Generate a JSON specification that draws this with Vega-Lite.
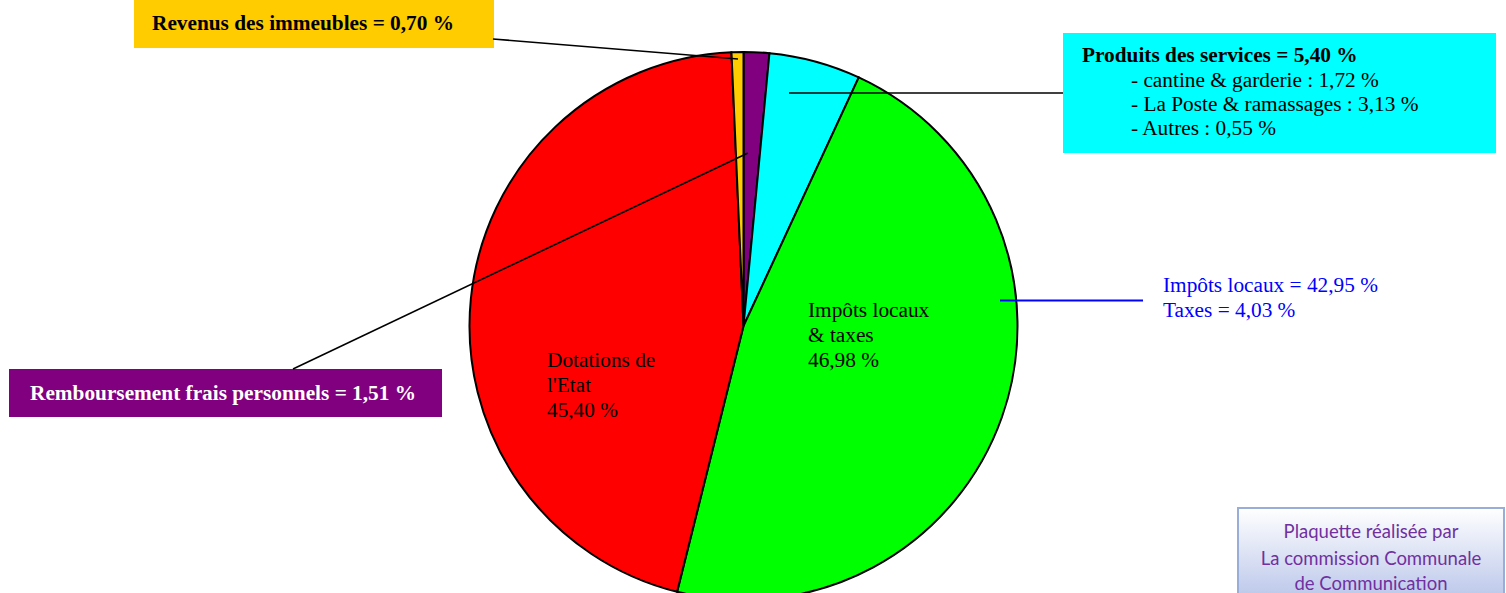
{
  "$schema": "https://vega.github.io/schema/vega-lite/v6.json",
  "width": 1506,
  "height": 593,
  "autosize": "none",
  "padding": 0,
  "background": "white",
  "config": {"view": {"stroke": null}},
  "datasets": {
    "pie": [
      {"poste": "Remboursement frais personnels", "pct": 1.51, "ordre": 1},
      {"poste": "Produits des services", "pct": 5.40, "ordre": 2},
      {"poste": "Impôts locaux & taxes", "pct": 46.98, "ordre": 3},
      {"poste": "Dotations de l'Etat", "pct": 45.40, "ordre": 4},
      {"poste": "Revenus des immeubles", "pct": 0.70, "ordre": 5}
    ],
    "boxes": [
      {"poste": "Revenus des immeubles", "x": 134, "x2": 494, "y": -2, "y2": 48},
      {"poste": "Produits des services", "x": 1063, "x2": 1496, "y": 33, "y2": 153},
      {"poste": "Remboursement frais personnels", "x": 9, "x2": 442, "y": 369, "y2": 417}
    ],
    "leaders": [
      {"x": 493, "y": 39, "x2": 738, "y2": 59},
      {"x": 789, "y": 93, "x2": 1063, "y2": 93},
      {"x": 293, "y": 369, "x2": 748, "y2": 153}
    ],
    "blueLeader": [
      {"x": 1000, "y": 300.5, "x2": 1143, "y2": 300.5}
    ],
    "boldText": [
      {"texte": "Revenus des immeubles = 0,70 %", "x": 152, "y": 30},
      {"texte": "Produits des services = 5,40 %", "x": 1082, "y": 62}
    ],
    "plainText": [
      {"texte": "- cantine & garderie : 1,72 %", "x": 1131, "y": 87},
      {"texte": "- La Poste & ramassages : 3,13 %", "x": 1131, "y": 111},
      {"texte": "- Autres : 0,55 %", "x": 1131, "y": 135},
      {"texte": "Impôts locaux", "x": 808, "y": 317},
      {"texte": "& taxes", "x": 808, "y": 342},
      {"texte": "46,98 %", "x": 808, "y": 367},
      {"texte": "Dotations de", "x": 547, "y": 367},
      {"texte": "l'Etat", "x": 547, "y": 392},
      {"texte": "45,40 %", "x": 547, "y": 417}
    ],
    "blueText": [
      {"texte": "Impôts locaux = 42,95 %", "x": 1163, "y": 292},
      {"texte": "Taxes = 4,03 %", "x": 1163, "y": 317}
    ],
    "whiteText": [
      {"texte": "Remboursement frais personnels = 1,51 %", "x": 30, "y": 400}
    ],
    "credit": [
      {"x": 1238, "x2": 1504, "y": 508, "y2": 600}
    ],
    "creditText": [
      {"texte": "Plaquette réalisée par", "x": 1371, "y": 538},
      {"texte": "La commission Communale", "x": 1371, "y": 565},
      {"texte": "de Communication", "x": 1371, "y": 590}
    ]
  },
  "layer": [
    {
      "data": {"name": "pie"},
      "mark": {"type": "arc", "radius": 274, "stroke": "#000000", "strokeWidth": 2},
      "encoding": {
        "theta": {"field": "pct", "type": "quantitative", "stack": true},
        "order": {"field": "ordre", "type": "quantitative"},
        "color": {
          "field": "poste", "type": "nominal", "legend": null,
          "scale": {
            "domain": ["Remboursement frais personnels", "Produits des services", "Impôts locaux & taxes", "Dotations de l'Etat", "Revenus des immeubles"],
            "range": ["#800080", "#00FFFF", "#00FF00", "#FF0000", "#FFCC00"]
          }
        },
        "x": {"datum": 743.5, "type": "quantitative", "scale": {"domain": [0, 1506], "nice": false, "zero": false}, "axis": null},
        "y": {"datum": 326, "type": "quantitative", "scale": {"domain": [0, 593], "nice": false, "zero": false, "reverse": true}, "axis": null}
      }
    },
    {
      "data": {"name": "boxes"},
      "mark": {"type": "rect", "strokeWidth": 0},
      "encoding": {
        "x": {"field": "x", "type": "quantitative", "axis": null},
        "x2": {"field": "x2"},
        "y": {"field": "y", "type": "quantitative", "axis": null},
        "y2": {"field": "y2"},
        "color": {"field": "poste", "type": "nominal", "legend": null}
      }
    },
    {
      "data": {"name": "credit"},
      "mark": {
        "type": "rect", "stroke": "#98AED8", "strokeWidth": 2,
        "fill": {"gradient": "linear", "x1": 0, "y1": 0, "x2": 0, "y2": 1,
                 "stops": [{"offset": 0, "color": "#FFFFFF"}, {"offset": 1, "color": "#BAC6EA"}]}
      },
      "encoding": {
        "x": {"field": "x", "type": "quantitative", "axis": null},
        "x2": {"field": "x2"},
        "y": {"field": "y", "type": "quantitative", "axis": null},
        "y2": {"field": "y2"}
      }
    },
    {
      "data": {"name": "leaders"},
      "mark": {"type": "rule", "color": "#000000", "strokeWidth": 1.6},
      "encoding": {
        "x": {"field": "x", "type": "quantitative", "axis": null},
        "x2": {"field": "x2"},
        "y": {"field": "y", "type": "quantitative", "axis": null},
        "y2": {"field": "y2"}
      }
    },
    {
      "data": {"name": "blueLeader"},
      "mark": {"type": "rule", "color": "#0000FF", "strokeWidth": 2},
      "encoding": {
        "x": {"field": "x", "type": "quantitative", "axis": null},
        "x2": {"field": "x2"},
        "y": {"field": "y", "type": "quantitative", "axis": null},
        "y2": {"field": "y2"}
      }
    },
    {
      "data": {"name": "boldText"},
      "mark": {"type": "text", "align": "left", "baseline": "alphabetic", "font": "Liberation Serif", "fontSize": 21.3, "fontWeight": "bold", "color": "#000000"},
      "encoding": {
        "x": {"field": "x", "type": "quantitative", "axis": null},
        "y": {"field": "y", "type": "quantitative", "axis": null},
        "text": {"field": "texte", "type": "nominal"}
      }
    },
    {
      "data": {"name": "plainText"},
      "mark": {"type": "text", "align": "left", "baseline": "alphabetic", "font": "Liberation Serif", "fontSize": 21.3, "color": "#000000"},
      "encoding": {
        "x": {"field": "x", "type": "quantitative", "axis": null},
        "y": {"field": "y", "type": "quantitative", "axis": null},
        "text": {"field": "texte", "type": "nominal"}
      }
    },
    {
      "data": {"name": "blueText"},
      "mark": {"type": "text", "align": "left", "baseline": "alphabetic", "font": "Liberation Serif", "fontSize": 21.3, "color": "#0000FF"},
      "encoding": {
        "x": {"field": "x", "type": "quantitative", "axis": null},
        "y": {"field": "y", "type": "quantitative", "axis": null},
        "text": {"field": "texte", "type": "nominal"}
      }
    },
    {
      "data": {"name": "whiteText"},
      "mark": {"type": "text", "align": "left", "baseline": "alphabetic", "font": "Liberation Serif", "fontSize": 21.3, "fontWeight": "bold", "color": "#FFFFFF"},
      "encoding": {
        "x": {"field": "x", "type": "quantitative", "axis": null},
        "y": {"field": "y", "type": "quantitative", "axis": null},
        "text": {"field": "texte", "type": "nominal"}
      }
    },
    {
      "data": {"name": "creditText"},
      "mark": {"type": "text", "align": "center", "baseline": "alphabetic", "font": "Comic Sans MS, Lato", "fontSize": 18.5, "color": "#7030A0"},
      "encoding": {
        "x": {"field": "x", "type": "quantitative", "axis": null},
        "y": {"field": "y", "type": "quantitative", "axis": null},
        "text": {"field": "texte", "type": "nominal"}
      }
    }
  ]
}
